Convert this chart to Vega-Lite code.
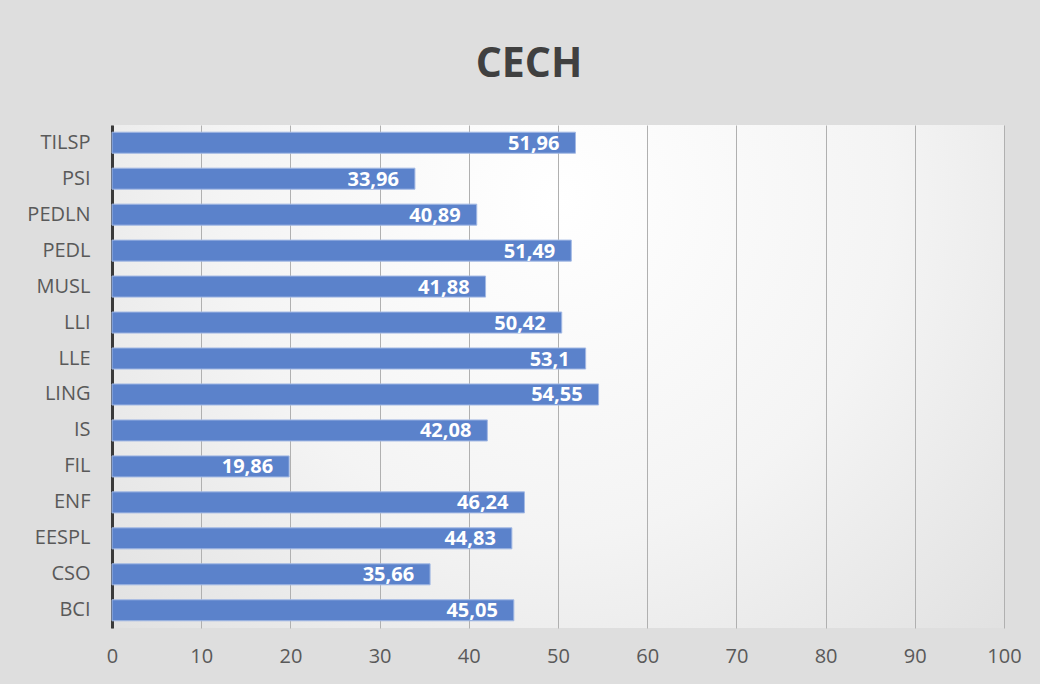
{
  "$schema": "https://vega.github.io/schema/vega-lite/v6.json",
  "autosize": {"type": "none"},
  "width": 892,
  "height": 503,
  "padding": {"left": 112, "top": 125, "right": 36, "bottom": 56},
  "background": "#dedede",
  "config": {
    "locale": {"number": {"decimal": ",", "thousands": ".", "grouping": [3], "currency": ["", " €"]}},
    "view": {
      "stroke": null,
      "fill": {"gradient": "radial", "x1": 0.5, "y1": 0.3, "r1": 0, "x2": 0.5, "y2": 0.3, "r2": 0.75,
        "stops": [{"offset": 0, "color": "#ffffff"}, {"offset": 0.5, "color": "#f4f4f4"}, {"offset": 1, "color": "#dedede"}]}
    },
    "font": "Open Sans"
  },
  "title": {
    "text": "CECH",
    "fontSize": 41,
    "fontWeight": "bold",
    "color": "#404040",
    "font": "Open Sans",
    "anchor": "middle",
    "baseline": "alphabetic",
    "offset": 7,
    "dx": -29
  },
  "data": {
    "values": [
      {"cech": "TILSP", "v": 51.96},
      {"cech": "PSI", "v": 33.96},
      {"cech": "PEDLN", "v": 40.89},
      {"cech": "PEDL", "v": 51.49},
      {"cech": "MUSL", "v": 41.88},
      {"cech": "LLI", "v": 50.42},
      {"cech": "LLE", "v": 53.1},
      {"cech": "LING", "v": 54.55},
      {"cech": "IS", "v": 42.08},
      {"cech": "FIL", "v": 19.86},
      {"cech": "ENF", "v": 46.24},
      {"cech": "EESPL", "v": 44.83},
      {"cech": "CSO", "v": 35.66},
      {"cech": "BCI", "v": 45.05}
    ]
  },
  "encoding": {
    "y": {
      "field": "cech", "type": "nominal", "sort": null,
      "scale": {"paddingInner": 0.415, "paddingOuter": 0.2},
      "axis": {
        "title": null, "ticks": false, "domainColor": "#3a3a3a", "domainWidth": 3,
        "labelFontSize": 20, "labelColor": "#595959", "labelPadding": 22, "labelFont": "Open Sans"
      }
    },
    "x": {
      "field": "v", "type": "quantitative",
      "scale": {"domain": [0, 100], "nice": false},
      "axis": {
        "title": null, "values": [0, 10, 20, 30, 40, 50, 60, 70, 80, 90, 100],
        "domain": false, "ticks": false, "grid": true, "gridColor": "#b0b0b0", "gridWidth": 1,
        "labelFontSize": 20, "labelColor": "#595959", "labelPadding": 18, "labelFont": "Open Sans",
        "labelFlush": false
      }
    }
  },
  "layer": [
    {
      "mark": {"type": "bar", "color": "#5b82cb", "stroke": "#a3b9e4", "strokeWidth": 1}
    },
    {
      "mark": {"type": "text", "align": "right", "baseline": "middle", "dx": -16, "dy": 1, "color": "#ffffff", "fontWeight": "bold", "fontSize": 20, "font": "Open Sans"},
      "encoding": {"text": {"field": "v", "type": "quantitative", "format": ".2~f"}}
    }
  ]
}
